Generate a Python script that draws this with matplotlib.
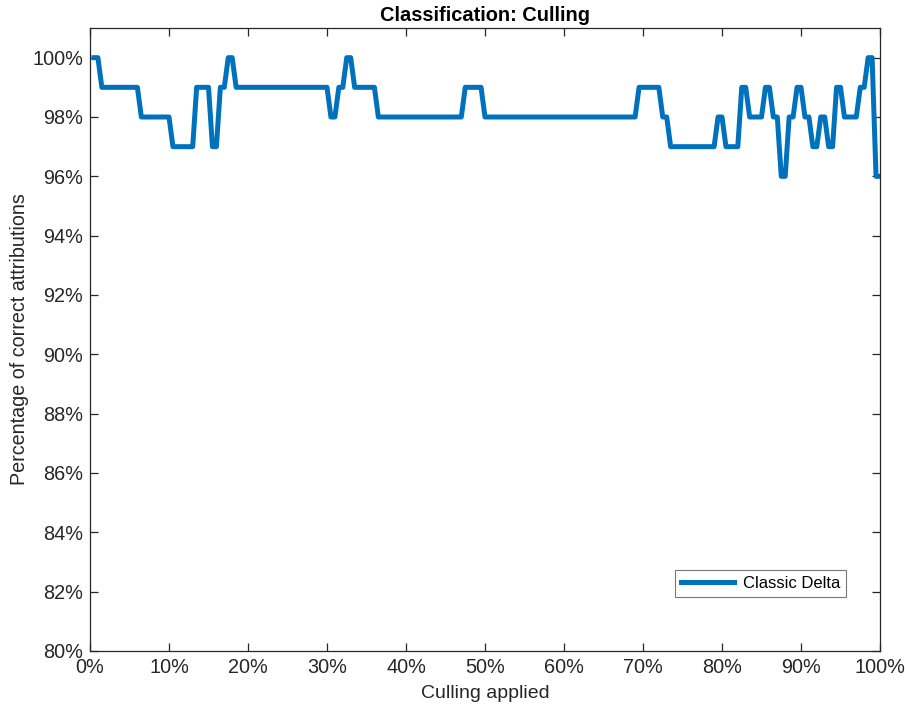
import numpy as np
import matplotlib.pyplot as plt

plt.rcParams['font.family'] = ['Liberation Sans', 'DejaVu Sans']

# culling applied, in half-percent steps
culling = np.arange(1, 201) * 0.5

# correct attributions (%) stored as runs: level and how many samples it holds
levels = [100, 99, 98, 97, 99, 97, 99, 100, 99, 98, 99, 100, 99, 98, 99, 98,
          99, 98, 97, 98, 97, 99, 98, 99, 98, 96, 98, 99, 98, 97, 98, 97,
          99, 98, 99, 100, 96]
run_lengths = [2, 10, 8, 6, 4, 2, 2, 2, 24, 2, 2, 2, 6, 22, 5, 39,
               6, 2, 12, 2, 4, 2, 4, 2, 2, 2, 2, 2, 2, 2, 2, 2,
               2, 4, 2, 2, 2]
correct = np.repeat(levels, run_lengths)
series_name = "Classic Delta"

x_ticks = np.arange(0, 101, 10)
y_ticks = np.arange(80, 101, 2)

axis_col = '#262626'

fig = plt.figure(figsize=(9.05, 7.09), dpi=100)
ax = fig.add_axes([90 / 905, 58 / 709, 790 / 905, 623 / 709])

ax.plot(culling, correct, color='#0072BD', linewidth=3.6, label=series_name,
        solid_joinstyle='round')

ax.set_xlim(0, 100)
ax.set_ylim(80, 101)
ax.set_xticks(x_ticks)
ax.set_xticklabels([f"{t}%" for t in x_ticks])
ax.set_yticks(y_ticks)
ax.set_yticklabels([f"{t}%" for t in y_ticks])

ax.tick_params(direction='in', top=True, right=True, length=6, width=0.9,
               colors=axis_col, labelsize=14.3, pad=5)
for s in ax.spines.values():
    s.set_color(axis_col)
    s.set_linewidth(0.9)

ax.set_xlabel("Culling applied", fontsize=14, color=axis_col, labelpad=6)
ax.set_ylabel("Percentage of correct attributions", fontsize=14.2, color=axis_col,
              labelpad=2)
ax.set_title("Classification: Culling", fontsize=14.4, fontweight='bold', pad=5)

leg = ax.legend(loc='lower right', bbox_to_anchor=(0.957, 0.087), borderaxespad=0,
                fontsize=12, frameon=True, fancybox=False, handlelength=3.2,
                borderpad=0.35, handletextpad=0.5)
leg.get_frame().set_edgecolor('#555555')
leg.get_frame().set_linewidth(0.8)

fig.savefig('out.png', dpi=100)
